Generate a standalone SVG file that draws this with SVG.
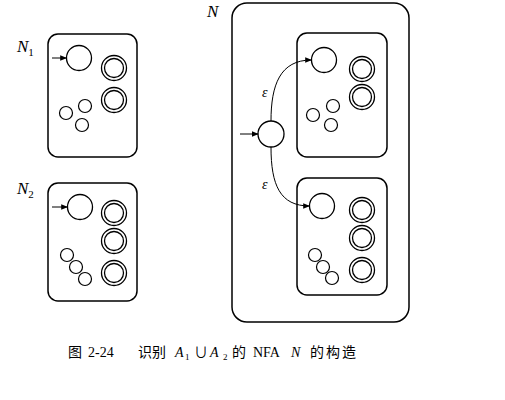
<svg xmlns="http://www.w3.org/2000/svg" width="505" height="400" viewBox="0 0 505 400">
<defs>
<marker id="ah" viewBox="0 0 10 10" refX="9" refY="5" markerWidth="7" markerHeight="7" markerUnits="userSpaceOnUse" orient="auto">
<path d="M0,1 L10,5 L0,9 z" fill="#000"/>
</marker>
</defs>
<style>
.box{fill:none;stroke:#000;stroke-width:1.5}
.st{fill:#fff;stroke:#000;stroke-width:1.3}
.sm{fill:#fff;stroke:#000;stroke-width:1.2}
.acc{fill:none;stroke:#000;stroke-width:1.3}
.edge{fill:none;stroke:#000;stroke-width:1}
.lbl{font-family:"Liberation Serif",serif;font-style:italic;font-size:17px;fill:#000}
.sub{font-family:"Liberation Serif",serif;font-style:normal;font-size:11px;fill:#000}
.eps{font-family:"Liberation Serif",serif;font-style:italic;font-size:14px;fill:#000}
.cap{font-family:"Liberation Serif","Noto Sans CJK SC",serif;font-size:14px;fill:#000}
.capi{font-family:"Liberation Serif",serif;font-style:italic;font-size:14px;fill:#000}
.csub{font-family:"Liberation Serif",serif;font-style:normal;font-size:9px;fill:#000}
</style>
<rect width="505" height="400" fill="#fff"/>

<g id="N1">
<rect class="box" x="48" y="34" width="89" height="123" rx="10"/>
<text class="lbl" x="17" y="52">N<tspan class="sub" dy="4">1</tspan></text>
<circle class="st" cx="79" cy="58" r="12.5"/>
<circle class="acc" cx="114" cy="68" r="12.5"/><circle class="acc" cx="114" cy="68" r="9.5"/>
<circle class="acc" cx="114" cy="100" r="12.5"/><circle class="acc" cx="114" cy="100" r="9.5"/>
<circle class="sm" cx="66" cy="113" r="6.5"/>
<circle class="sm" cx="85" cy="106" r="6.5"/>
<circle class="sm" cx="82" cy="125" r="6.5"/>
</g>

<g id="N2">
<rect class="box" x="48" y="183" width="89" height="118" rx="10"/>
<text class="lbl" x="17" y="194">N<tspan class="sub" dy="4">2</tspan></text>
<circle class="st" cx="80" cy="207" r="12.5"/>
<circle class="acc" cx="114" cy="213" r="12.5"/><circle class="acc" cx="114" cy="213" r="9.5"/>
<circle class="acc" cx="114" cy="241" r="12.5"/><circle class="acc" cx="114" cy="241" r="9.5"/>
<circle class="acc" cx="114" cy="273" r="12.5"/><circle class="acc" cx="114" cy="273" r="9.5"/>
<circle class="sm" cx="67" cy="255" r="6.5"/>
<circle class="sm" cx="76" cy="267" r="6.5"/>
<circle class="sm" cx="85" cy="279" r="6.5"/>
</g>

<g id="N">
<rect class="box" x="232" y="3" width="177" height="319" rx="15"/>
<text class="lbl" x="207" y="17">N</text>
<circle class="st" cx="271" cy="134" r="13"/>
</g>

<g id="N1copy">
<rect class="box" x="297" y="33" width="90" height="124" rx="10"/>
<circle class="st" cx="324" cy="60" r="12.5"/>
<circle class="acc" cx="362" cy="69" r="12.5"/><circle class="acc" cx="362" cy="69" r="9.5"/>
<circle class="acc" cx="362" cy="97" r="12.5"/><circle class="acc" cx="362" cy="97" r="9.5"/>
<circle class="sm" cx="313" cy="115" r="6.5"/>
<circle class="sm" cx="333" cy="106" r="6.5"/>
<circle class="sm" cx="331" cy="125" r="6.5"/>
</g>

<g id="N2copy">
<rect class="box" x="297" y="178" width="90" height="117" rx="10"/>
<circle class="st" cx="322" cy="206" r="12.5"/>
<circle class="acc" cx="362" cy="210" r="12.5"/><circle class="acc" cx="362" cy="210" r="9.5"/>
<circle class="acc" cx="362" cy="238" r="12.5"/><circle class="acc" cx="362" cy="238" r="9.5"/>
<circle class="acc" cx="362" cy="270" r="12.5"/><circle class="acc" cx="362" cy="270" r="9.5"/>
<circle class="sm" cx="315" cy="255" r="6.5"/>
<circle class="sm" cx="323" cy="267" r="6.5"/>
<circle class="sm" cx="332" cy="278" r="6.5"/>
</g>

<g id="connectors">
<line class="edge" x1="52" y1="58" x2="66.5" y2="58" marker-end="url(#ah)"/>
<line class="edge" x1="52" y1="207" x2="67.5" y2="207" marker-end="url(#ah)"/>
<line class="edge" x1="240" y1="134" x2="258" y2="134" marker-end="url(#ah)"/>
<path class="edge" d="M271,121 C271,85 280,60 311.5,60" marker-end="url(#ah)"/>
<path class="edge" d="M271,147 C271,185 280,206 309.5,206" marker-end="url(#ah)"/>
<text class="eps" x="262" y="97">ε</text>
<text class="eps" x="262" y="189">ε</text>
</g>

<g id="caption">
<text class="cap" x="68" y="357">图</text>
<text class="cap" x="88" y="357">2-24</text>
<text class="cap" x="138" y="357">识别</text>
<text class="capi" x="175" y="357">A</text>
<text class="csub" x="185" y="360">1</text>
<text class="cap" x="194" y="357">∪</text>
<text class="capi" x="210" y="357">A</text>
<text class="csub" x="223" y="360">2</text>
<text class="cap" x="232" y="357">的</text>
<text class="cap" x="253" y="357">NFA</text>
<text class="capi" x="291" y="357">N</text>
<text class="cap" x="310" y="357">的</text>
<text class="cap" x="326" y="357">构</text>
<text class="cap" x="342" y="357">造</text>
</g>
</svg>
